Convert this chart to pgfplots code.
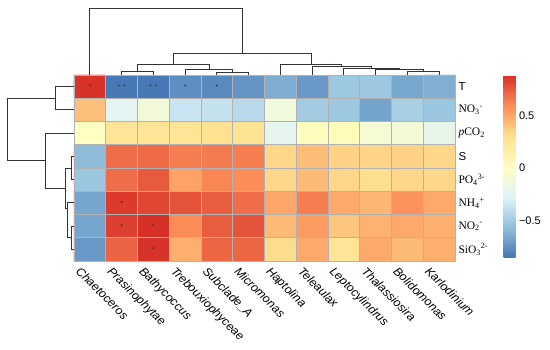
\documentclass[border=0pt]{standalone}
\usepackage{pgfplots}
\pgfplotsset{compat=1.18}
\usepackage{fontspec}
\setmainfont{Liberation Sans}
\newfontfamily\serifchem{Liberation Serif}
\pgfplotsset{colormap={rdylbu}{rgb255=(69,117,180) rgb255=(145,191,219) rgb255=(224,243,248) rgb255=(255,255,191) rgb255=(254,224,144) rgb255=(252,141,89) rgb255=(215,48,39)}}
\pgfplotstableread{
x y c
0 0 0.88
1 0 -0.85
2 0 -0.85
3 0 -0.76
4 0 -0.78
5 0 -0.74
6 0 -0.64
7 0 -0.72
8 0 -0.52
9 0 -0.52
10 0 -0.66
11 0 -0.63
0 1 0.42
1 1 -0.25
2 1 -0.12
3 1 -0.36
4 1 -0.38
5 1 -0.42
6 1 -0.13
7 1 -0.50
8 1 -0.52
9 1 -0.68
10 1 -0.48
11 1 -0.53
0 2 0.00
1 2 0.27
2 2 0.27
3 2 0.27
4 2 0.30
5 2 0.28
6 2 -0.22
7 2 0.03
8 2 0.05
9 2 -0.08
10 2 -0.10
11 2 -0.20
0 3 -0.58
1 3 0.70
2 3 0.71
3 3 0.65
4 3 0.66
5 3 0.65
6 3 0.34
7 3 0.43
8 3 0.36
9 3 0.35
10 3 0.36
11 3 0.34
0 4 -0.53
1 4 0.70
2 4 0.76
3 4 0.52
4 4 0.62
5 4 0.60
6 4 0.34
7 4 0.44
8 4 0.34
9 4 0.31
10 4 0.34
11 4 0.34
0 5 -0.67
1 5 0.86
2 5 0.82
3 5 0.78
4 5 0.75
5 5 0.70
6 5 0.51
7 5 0.65
8 5 0.50
9 5 0.46
10 5 0.58
11 5 0.50
0 6 -0.67
1 6 0.84
2 6 0.89
3 6 0.60
4 6 0.75
5 6 0.78
6 6 0.44
7 6 0.55
8 6 0.40
9 6 0.47
10 6 0.50
11 6 0.48
0 7 -0.72
1 7 0.73
2 7 0.88
3 7 0.48
4 7 0.72
5 7 0.72
6 7 0.32
7 7 0.50
8 7 0.27
9 7 0.50
10 7 0.44
11 7 0.48
}\heat
\begin{document}
\begin{tikzpicture}
\useasboundingbox (0,0) rectangle (550pt,350pt);
\begin{axis}[
  at={(74pt,89pt)}, anchor=south west,
  scale only axis, width=381pt, height=186pt,
  xmin=-0.5, xmax=11.5, ymin=-0.5, ymax=7.5,
  y dir=reverse, enlargelimits=false, clip=false,
  colormap name=rdylbu, point meta min=-0.86, point meta max=0.89,
  axis on top,
  axis line style={gray!60, line width=0.6pt},
  major tick length=0pt, minor tick length=0pt,
  xtick={-0.27,0.73,1.73,2.73,3.73,4.73,5.73,6.73,7.73,8.73,9.73,10.73},
  xticklabels={Chaetoceros,Prasinophytae,Bathycoccus,Trebouxiophyceae,Subclade\_A,Micromonas,Haptolina,Teleaulax,Leptocylindrus,Thalassiosira,Bolidomonas,Karlodinium},
  xticklabel style={rotate=-45, anchor=north west, font=\itshape\fontsize{12}{14}\selectfont},
  ytick={0,...,7},
  yticklabels={T,{\serifchem NO\textsubscript{3}\textsuperscript{-}},{\serifchem\textit{p}CO\textsubscript{2}},S,{\serifchem PO\textsubscript{4}\textsuperscript{3-}},{\serifchem NH\textsubscript{4}\textsuperscript{+}},{\serifchem NO\textsubscript{2}\textsuperscript{-}},{\serifchem SiO\textsubscript{3}\textsuperscript{2-}}},
  yticklabel pos=right,
  yticklabel style={anchor=west, font=\fontsize{11.5}{13}\selectfont},
  minor xtick={0.5,1.5,...,10.5}, minor ytick={0.5,1.5,...,6.5},
  minor grid style={gray!60, line width=0.6pt},
  xminorgrids, yminorgrids,
  colorbar,
  colorbar style={
    at={(parent axis.north east)}, anchor=north west, xshift=40pt,
    scale only axis, width=12pt, height=183pt,
    ytick={-0.5,0,0.5}, yticklabels={−0.5,0,0.5},
    major tick length=0pt, axis line style={draw=none},
    yticklabel style={font=\fontsize{11}{13}\selectfont}
  },
]
\addplot[matrix plot*, mesh/cols=12, point meta=explicit] table[x=x, y=y, meta=c] {\heat};
\addplot[only marks, mark=asterisk, mark size=1.1pt, black!75] coordinates {
(0,-0.05) (0.91,-0.05) (1.09,-0.05) (1.91,-0.05) (2.09,-0.05) (3,-0.05) (4,-0.05) (1,4.95) (1,5.95) (2,5.95) (2,6.95)};
% column dendrogram
\addplot[black!80, line width=0.8pt, mark=none] coordinates {(0,-0.5) (0,-3.38) (4.796875,-3.38) (4.796875,-1.446)};
\addplot[black!80, line width=0.8pt, mark=none] coordinates {(2.625,-0.96) (2.625,-1.446) (6.96875,-1.446) (6.96875,-0.96)};
\addplot[black!80, line width=0.8pt, mark=none] coordinates {(1.5,-0.672) (1.5,-0.96) (3.75,-0.96) (3.75,-0.758)};
\addplot[black!80, line width=0.8pt, mark=none] coordinates {(1,-0.5) (1,-0.672) (2,-0.672) (2,-0.5)};
\addplot[black!80, line width=0.8pt, mark=none] coordinates {(3,-0.5) (3,-0.758) (4.5,-0.758) (4.5,-0.629)};
\addplot[black!80, line width=0.8pt, mark=none] coordinates {(4,-0.5) (4,-0.629) (5,-0.629) (5,-0.5)};
\addplot[black!80, line width=0.8pt, mark=none] coordinates {(6,-0.5) (6,-0.96) (7.9375,-0.96) (7.9375,-0.887)};
\addplot[black!80, line width=0.8pt, mark=none] coordinates {(7,-0.5) (7,-0.887) (8.875,-0.887) (8.875,-0.80)};
\addplot[black!80, line width=0.8pt, mark=none] coordinates {(8,-0.5) (8,-0.80) (9.75,-0.80) (9.75,-0.737)};
\addplot[black!80, line width=0.8pt, mark=none] coordinates {(9,-0.5) (9,-0.737) (10.5,-0.737) (10.5,-0.65)};
\addplot[black!80, line width=0.8pt, mark=none] coordinates {(10,-0.5) (10,-0.65) (11,-0.65) (11,-0.5)};
% row dendrogram
\addplot[black!80, line width=0.8pt, mark=none] coordinates {(-1.098,0.5) (-2.61,0.5) (-2.61,3.1875) (-1.413,3.1875)};
\addplot[black!80, line width=0.8pt, mark=none] coordinates {(-0.5,0) (-1.098,0) (-1.098,1) (-0.5,1)};
\addplot[black!80, line width=0.8pt, mark=none] coordinates {(-0.5,2) (-1.413,2) (-1.413,4.375) (-0.783,4.375)};
\addplot[black!80, line width=0.8pt, mark=none] coordinates {(-0.594,3.5) (-0.783,3.5) (-0.783,5.25) (-0.72,5.25)};
\addplot[black!80, line width=0.8pt, mark=none] coordinates {(-0.5,3) (-0.594,3) (-0.594,4) (-0.5,4)};
\addplot[black!80, line width=0.8pt, mark=none] coordinates {(-0.5,5) (-0.72,5) (-0.72,6.5) (-0.594,6.5)};
\addplot[black!80, line width=0.8pt, mark=none] coordinates {(-0.5,6) (-0.594,6) (-0.594,7) (-0.5,7)};
\end{axis}
\end{tikzpicture}
\end{document}
